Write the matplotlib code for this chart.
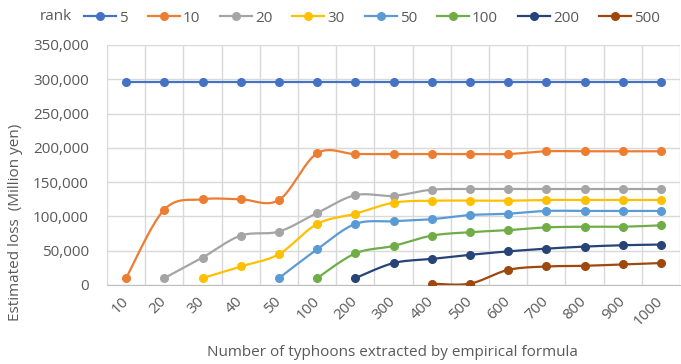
import numpy as np
from matplotlib import pyplot as plt

plt.rcParams['font.family'] = ['Open Sans', 'DejaVu Sans']

# number of typhoons extracted by the empirical formula (x categories)
counts = ['10', '20', '30', '40', '50', '100', '200', '300', '400', '500',
          '600', '700', '800', '900', '1000']

# estimated loss (million yen) per rank; None where the rank is not defined
loss_5 = [296000] * 15
loss_10 = [10000, 110000, 125000, 125000, 124000, 192000, 191000, 191000,
           191000, 191000, 191000, 195000, 195000, 195000, 195000]
loss_20 = [None, 10000, 40000, 72000, 78000, 105000, 131000, 130000,
           139000, 140000, 140000, 140000, 140000, 140000, 140000]
loss_30 = [None, None, 10000, 27000, 45000, 89000, 104000, 120000,
           123000, 123000, 123000, 124000, 124000, 124000, 124000]
loss_50 = [None, None, None, None, 10000, 52000, 89000, 93000, 96000,
           102000, 104000, 108000, 108000, 108000, 108000]
loss_100 = [None, None, None, None, None, 10000, 46000, 57000, 72000,
            77000, 80000, 84000, 85000, 85000, 87000]
loss_200 = [None, None, None, None, None, None, 10000, 32000, 38000,
            44000, 49000, 53000, 56000, 58000, 59000]
loss_500 = [None, None, None, None, None, None, None, None, 2000, 2000,
            22000, 27000, 28000, 30000, 32000]

ranks = ['5', '10', '20', '30', '50', '100', '200', '500']
series = [loss_5, loss_10, loss_20, loss_30, loss_50, loss_100, loss_200, loss_500]
colors = ['#4472C4', '#ED7D31', '#A5A5A5', '#FFC000', '#5B9BD5', '#70AD47',
          '#264478', '#9E480E']


def smooth(x, y, n=24):
    # Catmull-Rom curve through the points, like a spreadsheet "smoothed line"
    x = np.asarray(x, float)
    y = np.asarray(y, float)
    if len(x) < 3:
        return x, y
    px = np.concatenate([[x[0]], x, [x[-1]]])
    py = np.concatenate([[y[0]], y, [y[-1]]])
    t = np.linspace(0, 1, n)
    xs, ys = [], []
    for i in range(1, len(px) - 2):
        for p, out in ((px, xs), (py, ys)):
            p0, p1, p2, p3 = p[i - 1], p[i], p[i + 1], p[i + 2]
            c1 = p1 + (p2 - p0) / 6
            c2 = p2 - (p3 - p1) / 6
            out.extend((1 - t) ** 3 * p1 + 3 * (1 - t) ** 2 * t * c1
                       + 3 * (1 - t) * t ** 2 * c2 + t ** 3 * p2)
    return np.array(xs), np.array(ys)


fig = plt.figure(figsize=(6.81, 3.64), dpi=100)
ax = fig.add_axes([107 / 681, 1 - 285 / 364, 573 / 681, 240 / 364])

for name, vals, c in zip(ranks, series, colors):
    idx = [i for i, v in enumerate(vals) if v is not None]
    yv = [vals[i] for i in idx]
    sx, sy = smooth(idx, yv)
    ax.plot(sx, sy, color=c, lw=1.6, zorder=3)
    ax.plot(idx, yv, 'o', color=c, ms=5.5, zorder=4)
    ax.plot([], [], '-o', color=c, lw=1.6, ms=5.5, label=name)

ax.set_xlim(-0.5, len(counts) - 0.5)
ax.set_ylim(0, 350000)
ax.set_yticks(np.arange(0, 350001, 50000))
ax.set_yticklabels([f'{v:,}' for v in range(0, 350001, 50000)])
ax.set_xticks(range(len(counts)))
ax.set_xticklabels(counts, rotation=45, ha='right', va='center',
                   rotation_mode='anchor')
ax.set_xticks(np.arange(-0.5, len(counts)), minor=True)
ax.grid(True, axis='y', color='#d9d9d9', lw=1)
ax.grid(True, axis='x', which='minor', color='#d9d9d9', lw=1)
ax.set_axisbelow(True)
for s in ['top', 'right', 'left']:
    ax.spines[s].set_visible(False)
ax.spines['bottom'].set_color('#bfbfbf')
ax.tick_params(axis='both', which='both', length=0, colors='#595959',
               labelsize=11)
ax.tick_params(axis='x', pad=10)
ax.tick_params(axis='y', pad=13)

fig.text(16 / 681, 1 - 222 / 364, 'Estimated loss  (Million yen)',
         rotation=90, ha='center', va='center', fontsize=11, color='#595959')
fig.text(392 / 681, 1 - 352 / 364,
         'Number of typhoons extracted by empirical formula',
         ha='center', va='center', fontsize=11, color='#595959')
fig.text(56 / 681, 1 - 16 / 364, 'rank', ha='center', va='center',
         fontsize=11, color='#595959')
fig.legend(loc='center left', bbox_to_anchor=(84 / 681, 1 - 18 / 364),
           ncol=8, frameon=False, fontsize=11, handlelength=2.1,
           handletextpad=0.2, columnspacing=1.3, labelcolor='#595959',
           borderaxespad=0, borderpad=0)

fig.savefig('out.png')
